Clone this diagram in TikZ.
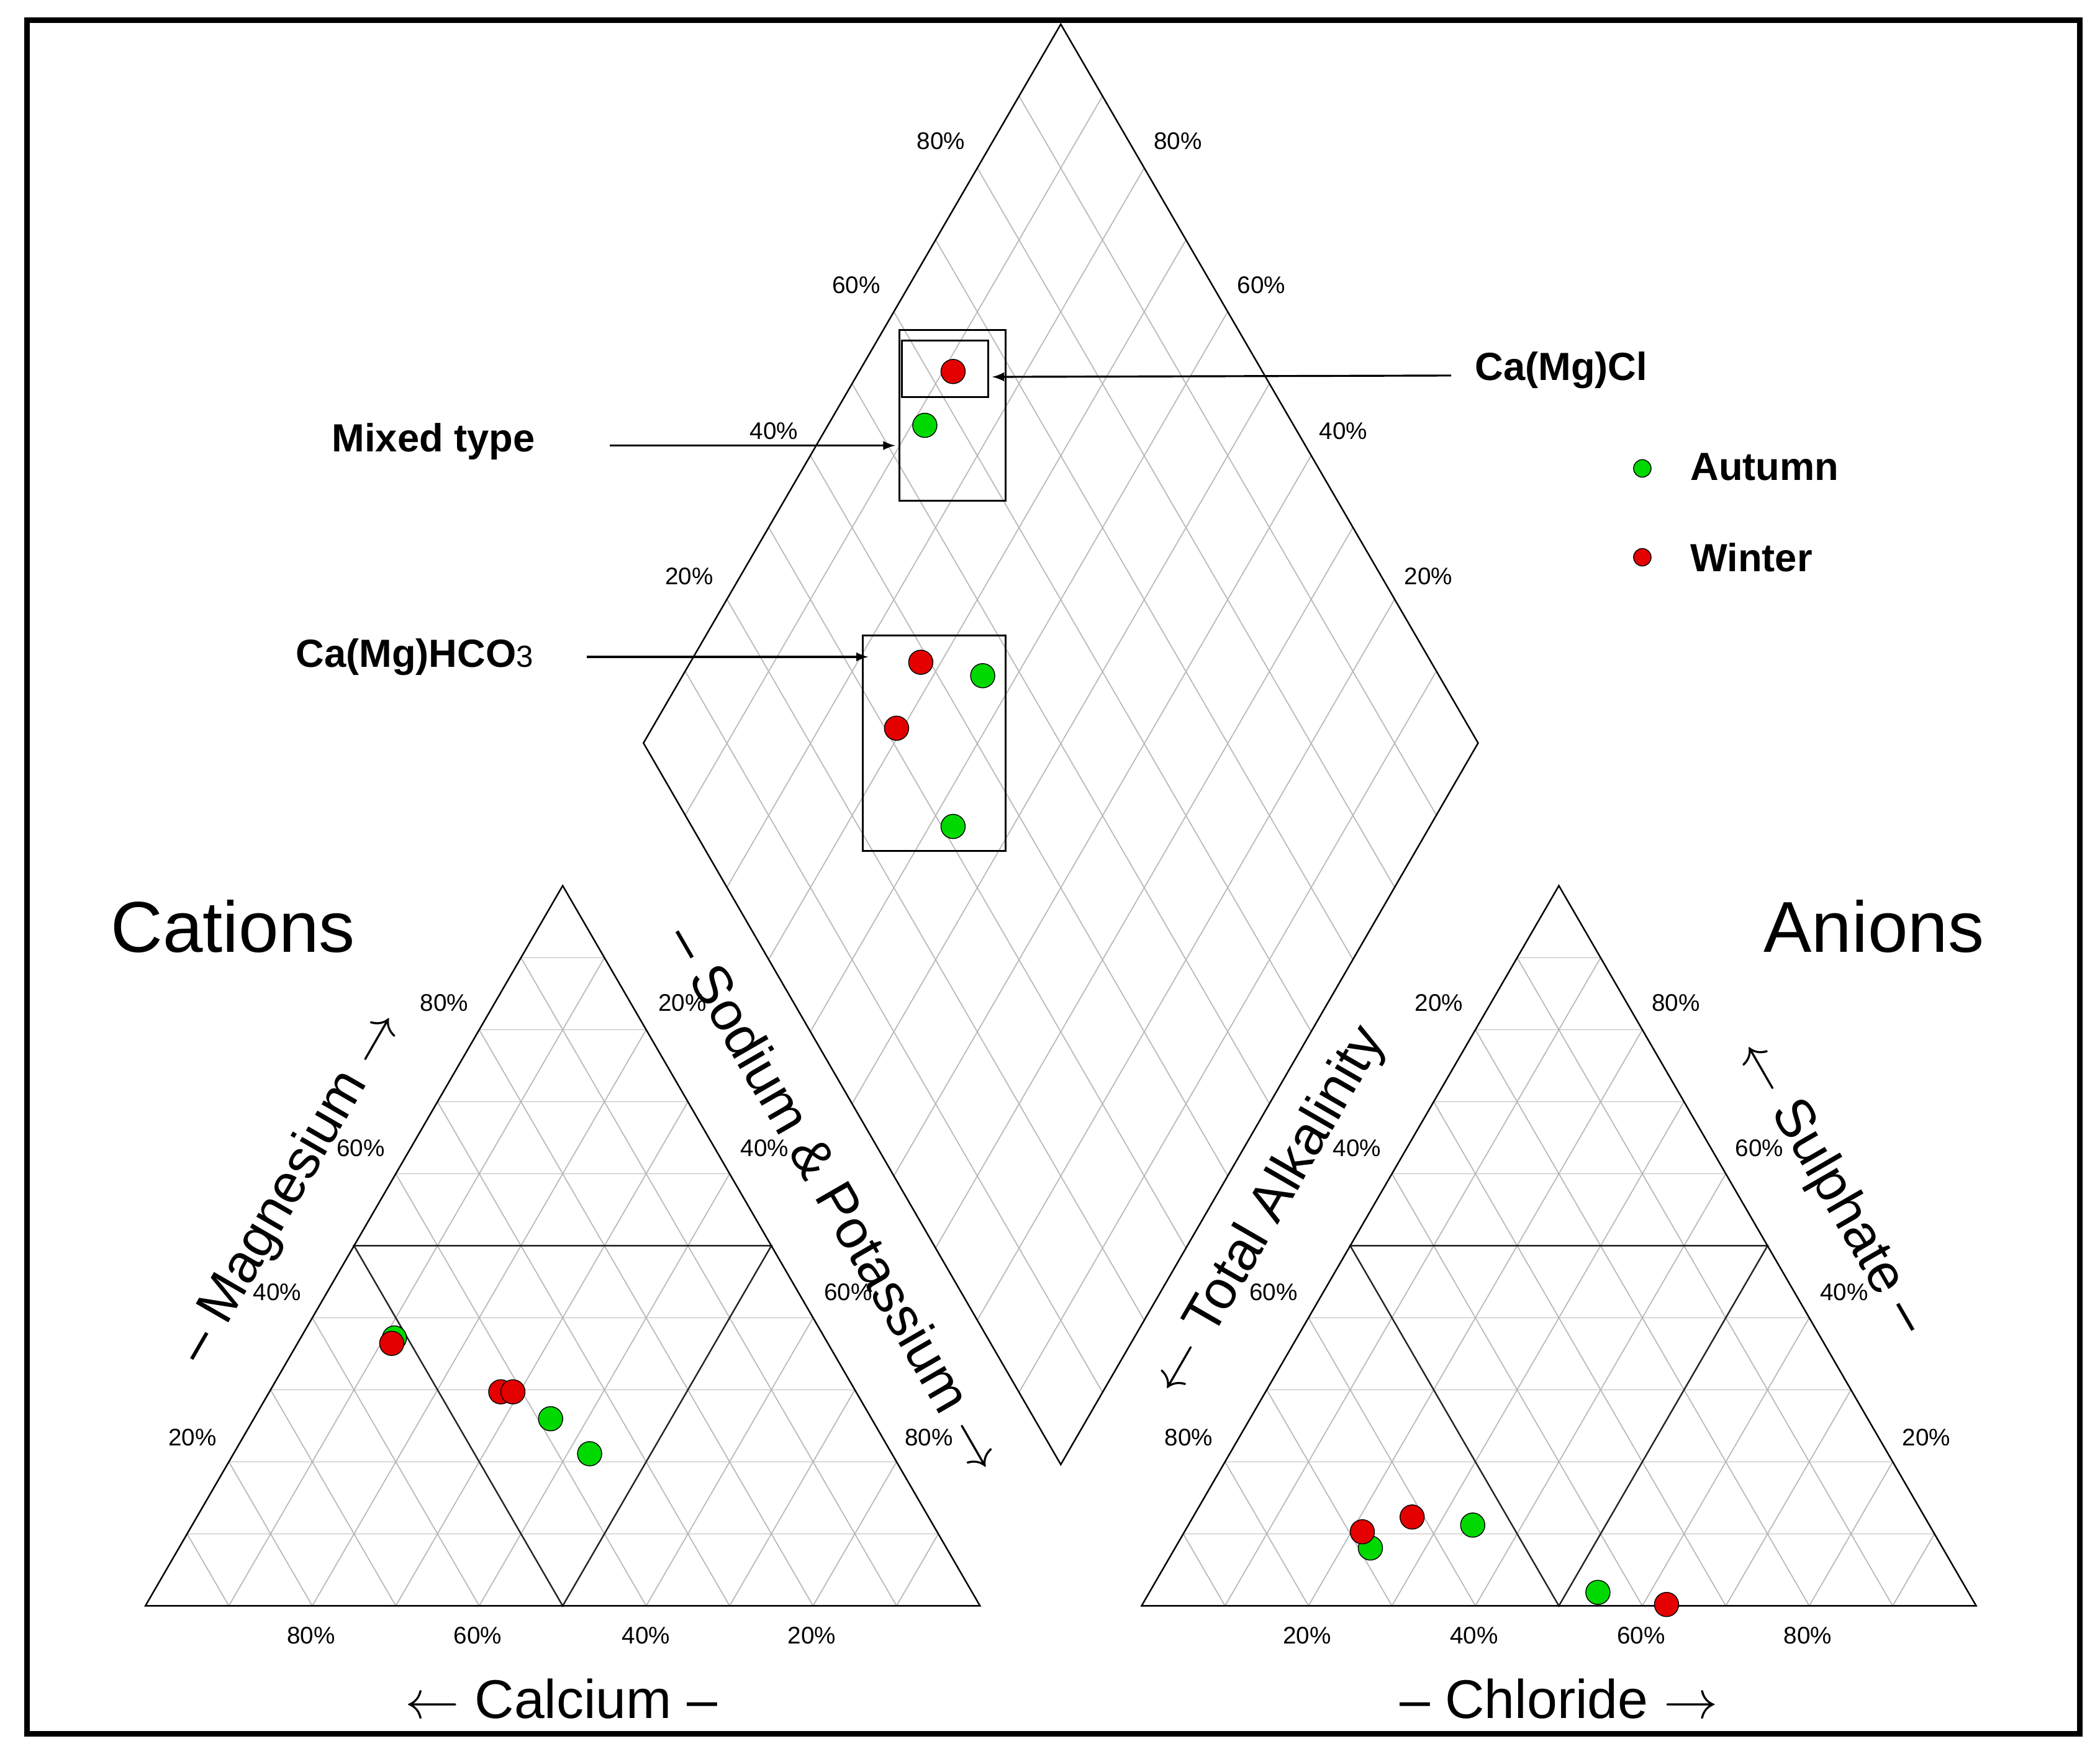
\documentclass[tikz,border=0pt]{standalone}
\usepackage{fontspec}
\setmainfont{Liberation Sans}
\usetikzlibrary{calc}
\tikzset{
  grid/.style={gray!55, line width=0.5pt},
  pct/.style={font=\fontsize{11}{12}\selectfont},
  axlab/.style={font=\fontsize{25}{28}\selectfont},
  big/.style={font=\fontsize{33}{36}\selectfont},
  tag/.style={font=\bfseries\fontsize{18}{20}\selectfont},
  aut/.style={circle, draw=black, fill=green!85!black, inner sep=0pt, minimum size=18\pxu},
  win/.style={circle, draw=black, fill=red!90!black, inner sep=0pt, minimum size=18\pxu},
}
\newcommand{\pxu}{*0.02168cm}
\begin{document}
\begin{tikzpicture}[x=0.02168cm, y=-0.02168cm, >=latex]
\useasboundingbox (0,0) rectangle (1560,1303);
\draw[line width=2.5pt] (20,15) rectangle (1545,1288);

% triangles and diamond
\coordinate (lA) at (108,1193); \coordinate (lB) at (728,1193); \coordinate (lC) at (418,658);
\coordinate (rA) at (848,1193); \coordinate (rB) at (1468,1193); \coordinate (rC) at (1158,658);
\coordinate (dL) at (478,552); \coordinate (dT) at (788,18); \coordinate (dR) at (1098,552); \coordinate (dB) at (788,1088);

\foreach \t in {l,r}{
  \foreach \i in {1,...,9}{
    \draw[grid] ($(\t A)!\i/10!(\t C)$) -- ($(\t B)!\i/10!(\t C)$);
    \draw[grid] ($(\t A)!\i/10!(\t B)$) -- ($(\t C)!\i/10!(\t B)$);
    \draw[grid] ($(\t B)!\i/10!(\t A)$) -- ($(\t C)!\i/10!(\t A)$);
  }
  \draw[gray!30!black, line width=0.7pt] ($(\t A)!.5!(\t C)$) -- ($(\t B)!.5!(\t C)$) -- ($(\t A)!.5!(\t B)$) -- cycle;
  \draw[line width=0.7pt] (\t A) -- (\t B) -- (\t C) -- cycle;
}
\foreach \i in {1,...,9}{
  \draw[grid] ($(dB)!\i/10!(dR)$) -- ($(dL)!\i/10!(dT)$);
  \draw[grid] ($(dT)!\i/10!(dR)$) -- ($(dL)!\i/10!(dB)$);
}
\draw[line width=0.7pt] (dL) -- (dT) -- (dR) -- (dB) -- cycle;

% percent labels
\foreach \x/\y/\p in {330/745/80,268/853/60,206/960/40,143/1068/20,
  507/745/20,568/853/40,630/960/60,690/1068/80,
  231/1215/80,355/1215/60,480/1215/40,603/1215/20,
  1069/745/20,1008/853/40,946/960/60,883/1068/80,
  1245/745/80,1307/853/60,1370/960/40,1431/1068/20,
  971/1215/20,1095/1215/40,1219/1215/60,1343/1215/80,
  699/105/80,636/212/60,575/320/40,512/428/20,
  875/105/80,937/212/60,998/320/40,1061/428/20}
  \node[pct] at (\x,\y) {\p\%};

% axis titles
\node[big] (cat) at (173,688) {Cations};
\node[big] (ani) at (1392,688) {Anions};
\node[axlab, rotate=60] (mg) at (216,882) {-- Magnesium $\rightarrow$};
\node[axlab, rotate=-60] (na) at (622,890) {-- Sodium \& Potassium $\rightarrow$};
\node[axlab] (ca) at (417,1262) {$\leftarrow$ Calcium --};
\node[axlab] (cl) at (1158,1262) {-- Chloride $\rightarrow$};
\node[axlab, rotate=60] (alk) at (943,900) {$\leftarrow$ Total Alkalinity};
\node[axlab, rotate=-60] (so) at (1360,882) {$\leftarrow$ Sulphate --};

% type boxes
\draw[line width=0.8pt] (668,245) rectangle (747,372);
\draw[line width=0.8pt] (670,253) rectangle (734,295);
\draw[line width=0.8pt] (641,472) rectangle (747,632);
\node[tag, anchor=west] (camgcl) at (1090,275) {Ca(Mg)Cl};
\node[tag] (mix) at (322,328) {Mixed type};
\node[tag] (hco) at (308,488) {Ca(Mg)HCO\textmd{\fontsize{14}{16}\selectfont 3}};
\coordinate (cltip) at (737,280);
\coordinate (mixtip) at (665,331);
\coordinate (hcotip) at (645,488);
\draw[->, line width=0.9pt] (camgcl.west) ++(-12,4) -- (cltip);
\draw[->, line width=0.9pt] (mix.east) ++(50,3) -- (mixtip);
\draw[->, line width=0.9pt] (hco.east) ++(34,0) -- (hcotip);

% samples
\foreach \x/\y in {293/994,409/1054,438/1080,1018/1150,1094/1133,1187/1183,687/316,730/502,708/614}
  \node[aut] at (\x,\y) {};
\foreach \x/\y in {291/998,372/1034,381/1034,1012/1138,1049/1127,1238/1192,708/276,684/492,666/541}
  \node[win] at (\x,\y) {};

% legend
\node[aut, minimum size=13\pxu] (la) at (1220,348) {};
\node[win, minimum size=13\pxu] (lw) at (1220,414) {};
\node[tag, anchor=west] at (1250,347) {Autumn};
\node[tag, anchor=west] at (1250,414) {Winter};
\end{tikzpicture}
\end{document}
